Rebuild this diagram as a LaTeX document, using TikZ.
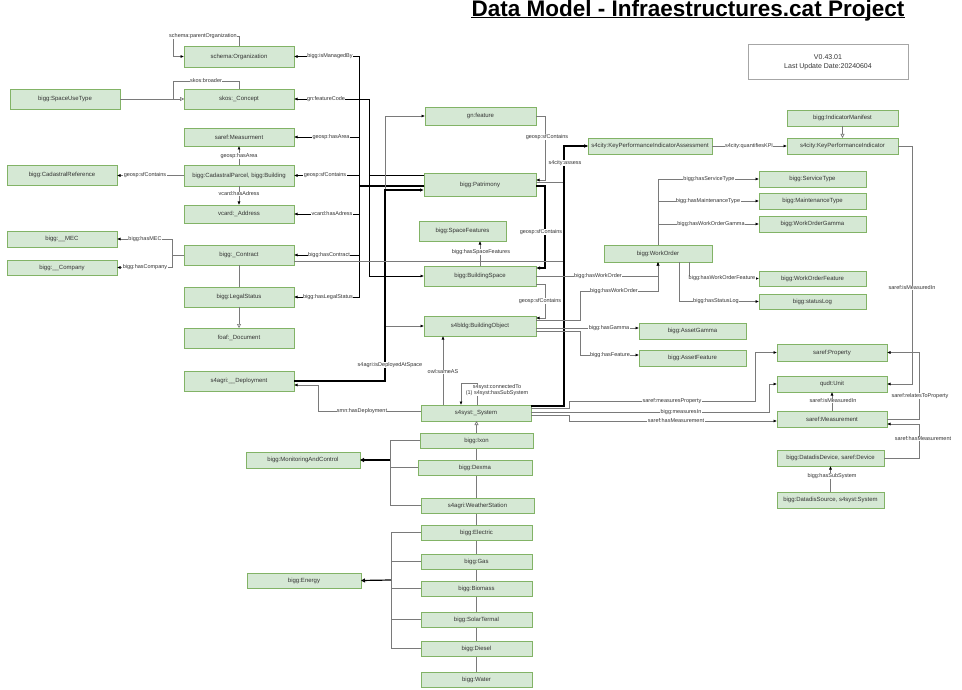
\documentclass[tikz,border=0pt]{standalone}
\usepackage{fontspec}
\setmainfont{Liberation Sans}
\usetikzlibrary{arrows.meta,backgrounds}
\definecolor{boxfill}{HTML}{D5E8D4}
\definecolor{boxline}{HTML}{82B366}
\definecolor{edge}{HTML}{7A7A7A}
\definecolor{txt}{HTML}{333333}
\tikzset{
 box/.style={draw=boxline, fill=boxfill, line width=0.8pt, inner sep=0pt, outer sep=0pt, font=\fontsize{6}{7}\selectfont, text=txt},
 lbl/.style={font=\fontsize{5.5}{6}\selectfont, text=txt, fill=white, inner sep=0.4pt},
 ln/.style={draw=edge, line width=0.6pt},
 arr/.style={ln, -{Latex[length=3.5pt,width=3pt,color=black]}},
 darr/.style={draw=black, line width=0.6pt, -{Latex[length=3.5pt,width=3pt]}},
 thk/.style={draw=black, line width=1.2pt},
 thkarr/.style={thk, -{Latex[length=4pt,width=3.5pt]}},
 inh/.style={ln, -{Triangle[open,length=4pt,width=4pt,fill=white]}},
}
\newcommand\mybox[6]{\node[box, minimum width={(#4-#2)*1pt}, minimum height={(#5-#3)*1pt}] (#1) at ({(#2+#4)/2},{(#3+#5)/2}) {#6};}
\newcommand\mylbl[4]{\node[lbl] (#1) at (#2,#3) {#4};}
\begin{document}
\begin{tikzpicture}[x=1pt,y=-1pt]
\useasboundingbox (0,0) rectangle (962,690);
% title
\node[font=\bfseries\fontsize{22.5}{26}\selectfont, anchor=base, inner sep=0pt] (title) at (688,16.3) {Data Model - Infraestructures.cat Project};
\draw[line width=1pt] (title.base west |- 0,18) -- (title.base east |- 0,18);
\node[draw=gray!70, line width=1pt, minimum width=160pt, minimum height=35pt, inner sep=0pt, align=center, font=\fontsize{7}{9}\selectfont, text=txt] (ver) at (828,62) {V0.43.01\\Last Update Date:20240604};
% left column
\mybox{org}{184}{46}{294}{67}{schema:Organization}
\mybox{concept}{184}{89}{294}{109}{skos:\_Concept}
\mybox{measur}{184}{128}{294}{146}{saref:Measurment}
\mybox{cadparcel}{184}{165}{294}{186}{bigg:CadastralParcel, bigg:Building}
\mybox{address}{184}{205}{294}{223}{vcard:\_Address}
\mybox{contract}{184}{245}{294}{265}{bigg:\_Contract}
\mybox{legal}{184}{287}{294}{307}{bigg:LegalStatus}
\mybox{doc}{184}{328}{294}{348}{foaf:\_Document}
\mybox{deploy}{184}{371}{294}{391}{s4agri:\_\_Deployment}
\mybox{spaceuse}{10}{89}{120}{109}{bigg:SpaceUseType}
\mybox{cadref}{7}{165}{117}{185}{bigg:CadastralReference}
\mybox{mec}{7}{231}{117}{247}{bigg:\_\_MEC}
\mybox{company}{7}{260}{117}{275}{bigg:\_\_Company}
% middle
\mybox{gnfeat}{425}{107}{536}{125}{gn:feature}
\mybox{patr}{424}{173}{536}{196}{bigg:Patrimony}
\mybox{spfeat}{419}{221}{506}{241}{bigg:SpaceFeatures}
\mybox{bspace}{424}{266}{536}{286}{bigg:BuildingSpace}
\mybox{bobj}{424}{316}{536}{336}{s4bldg:BuildingObject}
\mybox{system}{421}{405}{531}{421}{s4syst:\_System}
\mybox{ixon}{420}{433}{533}{448}{bigg:Ixon}
\mybox{dexma}{418}{460}{532}{475}{bigg:Dexma}
\mybox{weather}{421}{498}{534}{513}{s4agri:WeatherStation}
\mybox{electric}{421}{525}{532}{540}{bigg:Electric}
\mybox{gas}{421}{554}{532}{569}{bigg:Gas}
\mybox{biomass}{421}{581}{532}{596}{bigg:Biomass}
\mybox{solar}{421}{612}{532}{627}{bigg:SolarTermal}
\mybox{diesel}{421}{641}{532}{656}{bigg:Diesel}
\mybox{water}{421}{672}{532}{687}{bigg:Water}
\mybox{monitor}{246}{452}{360}{468}{bigg:MonitoringAndControl}
\mybox{energy}{247}{573}{361}{588}{bigg:Energy}
% right
\mybox{kpia}{588}{138}{712}{154}{s4city:KeyPerformanceIndicatorAssessment}
\mybox{indman}{787}{110}{898}{126}{bigg:IndicatorManifest}
\mybox{kpi}{787}{138}{898}{154}{s4city:KeyPerformanceIndicator}
\mybox{servtype}{759}{171}{866}{187}{bigg:ServiceType}
\mybox{mainttype}{759}{193}{866}{209}{bigg:MaintenanceType}
\mybox{wogamma}{759}{216}{866}{232}{bigg:WorkOrderGamma}
\mybox{workorder}{604}{245}{712}{262}{bigg:WorkOrder}
\mybox{wofeat}{759}{271}{866}{286}{bigg:WorkOrderFeature}
\mybox{statuslog}{759}{294}{866}{309}{bigg:statusLog}
\mybox{assetgamma}{639}{323}{746}{339}{bigg:AssetGamma}
\mybox{assetfeat}{639}{350}{746}{366}{bigg:AssetFeature}
\mybox{property}{777}{344}{887}{361}{saref:Property}
\mybox{unit}{777}{376}{887}{392}{qudt:Unit}
\mybox{measurement}{777}{411}{887}{427}{saref:Measurement}
\mybox{ddevice}{777}{450}{884}{466}{bigg:DatadisDevice, saref:Device}
\mybox{dsource}{777}{492}{884}{508}{bigg:DatadisSource, s4syst:System}

% ---- connectors ----
% self loops and left
\draw[arr] (org.north) -- (239,36) -- (173,36) |- (org.west);
\draw[arr] (concept.north) -- (239,81) -- (173,81) |- (concept.west);
\draw[inh] (spaceuse.east) -- (concept.west);
% patrimony trunk
\draw[darr] (patr.west |- 0,186) -- (359,186) |- (org.east);
\draw[darr] (patr.west |- 0,186) -- (359,186) |- (measur.east);
\draw[darr] (patr.west |- 0,186) -- (359,186) |- (cadparcel.east);
\draw[darr] (patr.west |- 0,186) -- (359,186) |- (address.east);
\draw[darr] (patr.west |- 0,186) -- (359,186) |- (contract.east);
\draw[darr] (patr.west |- 0,186) -- (359,186) |- (legal.east);
\draw[thk] (patr.west |- 0,186) -- (359,186);
% featureCode
\draw[darr] (patr.west |- 0,175) -- (369,175) |- (concept.east);
\draw[darr] (patr.west |- 0,175) -- (369,175) |- (bspace.west |- 0,276);
% deployed at space
\draw[arr] (deploy.east |- 0,381) -- (385,381) |- (gnfeat.west |- 0,116);
\draw[arr] (deploy.east |- 0,381) -- (385,381) |- (bobj.west);
\draw[thkarr] (deploy.east |- 0,381) -- (385,381) |- (patr.west |- 0,190);
% hasDeployment
\draw[arr] (system.west |- 0,411) -- (318,411) |- (deploy.east |- 0,385);
% containment chain
\draw[arr] (gnfeat.east |- 0,116) -- (545,116) |- (patr.east |- 0,180);
\draw[thkarr] (patr.east |- 0,186) -- (545,186) |- (bspace.east |- 0,268);
\draw[arr] (bspace.east |- 0,284) -- (545,284) |- (bobj.east |- 0,318);
% assess
\draw[arr] (patr.east |- 0,182) -- (564,182) |- (kpia.west);
\draw[arr] (contract.east |- 0,261) -- (564,261) |- (kpia.west);
\draw[thkarr] (system.east |- 0,406) -- (564,406) |- (kpia.west);
% space features
\draw[arr] (bspace.north -| 480,0) -- (spfeat.south -| 480,0);
% work orders
\draw[arr] (bspace.east |- 0,276) -| (workorder.south);
\draw[arr] (bobj.east |- 0,320) -- (580,320) -- (580,291) -- (658,291) -- (workorder.south);
\draw[arr] (bobj.east |- 0,328) -- (assetgamma.west |- 0,328);
\draw[arr] (bobj.east |- 0,331) -- (580,331) |- (assetfeat.west |- 0,355);
% system to saref
\draw[arr] (system.east |- 0,408) -- (569,408) -- (569,401) -- (755,401) |- (property.west);
\draw[arr] (system.east |- 0,412) -- (769,412) |- (unit.west);
\draw[arr] (system.east |- 0,415) -- (569,415) |- (measurement.west |- 0,421);
% KPI
\draw[arr] (kpia.east) -- (kpi.west);
\draw[inh] (indman) -- (kpi);
\draw[arr] (kpi.east) -- (912,146) |- (unit.east);
\draw[arr] (measurement) -- (unit);
\draw[arr] (measurement.east |- 0,419) -- (919,419) |- (property.east);
\draw[arr] (ddevice.east |- 0,458) -- (919,458) |- (measurement.east |- 0,424);
\draw[arr] (dsource) -- (ddevice);
% work order outgoing
\draw[arr] (workorder.north) |- (servtype.west);
\draw[arr] (workorder.north) |- (mainttype.west);
\draw[arr] (workorder.north) |- (wogamma.west);
\draw[arr] (workorder.south -| 689,0) |- (wofeat.west);
\draw[arr] (workorder.south -| 679,0) |- (statuslog.west);
% left small
\draw[arr] (cadparcel) -- (measur);
\draw[arr] (cadparcel.west) -- (cadref.east |- cadparcel.west);
\draw[arr] (cadparcel) -- (address);
\draw[arr] (contract.west) -- (172,255) |- (mec.east);
\draw[arr] (contract.west) -- (172,255) |- (company.east);
\draw[ln] (contract) -- (legal);
\draw[inh] (legal) -- (doc);
% system
\draw[arr] (system.north -| 443,0) -- (bobj.south -| 443,0);
\draw[arr] (system.north -| 477,0) -- (477,383) -- (461,383) -- (system.north -| 461,0);
\begin{scope}[on background layer]
\draw[ln] (water.north) -- (water.north |- system.south);
\end{scope}
\draw[inh] (ixon.north -| water.north) -- (system.south -| water.north);
% monitoring
\coordinate (mcj) at (390,460);
\draw[ln] (ixon.west) -| (mcj);
\draw[ln] (dexma.west) -| (mcj);
\draw[ln] (weather.west) -| (mcj);
\draw[thk,-{Triangle[length=4pt,width=4pt]}] (mcj) -- (monitor.east);
% energy
\coordinate (enj) at (391,580);
\draw[ln] (electric.west) -| (enj);
\draw[ln] (gas.west) -| (enj);
\draw[ln] (biomass.west) -| (enj);
\draw[ln] (solar.west) -| (enj);
\draw[ln] (diesel.west) -| (enj);
\draw[thk,-{Triangle[open,length=4pt,width=4pt,fill=white]}] (enj) -- (energy.east);

% ---- labels ----
\mylbl{l1}{203}{36}{schema:parentOrganization}
\mylbl{l2}{206}{81}{skos:broader}
\mylbl{l3}{330}{56.5}{bigg:isManagedBy}
\mylbl{l4}{326}{99}{gn:featureCode}
\mylbl{l5}{331}{137}{geosp:hasArea}
\mylbl{l6}{325}{175.5}{geosp:sfContains}
\mylbl{l7}{332}{214}{vcard:hasAdress}
\mylbl{l8}{329}{255}{bigg:hasContract}
\mylbl{l9}{328}{297}{bigg:hasLegalStatus}
\mylbl{l10}{239}{156}{geosp:hasArea}
\mylbl{l11}{145}{175.5}{geosp:sfContains}
\mylbl{l12}{239}{194}{vcard:hasAdress}
\mylbl{l13}{145}{239}{bigg:hasMEC}
\mylbl{l14}{145}{267.5}{bigg:hasCompany}
\mylbl{l15}{390}{365}{s4agri:isDeployedAtSpace}
\mylbl{l16}{362}{411}{smn:hasDeployment}
\mylbl{l17}{547}{137}{geosp:sfContains}
\mylbl{l18}{565}{163}{s4city:assess}
\mylbl{l19}{541}{232}{geosp:sfContains}
\mylbl{l20}{540}{301}{geosp:sfContains}
\mylbl{l21}{481}{252}{bigg:hasSpaceFeatures}
\mylbl{l22}{598}{276}{bigg:hasWorkOrder}
\mylbl{l23}{614}{291}{bigg:hasWorkOrder}
\mylbl{l24}{609}{328}{bigg:hasGamma}
\mylbl{l25}{610}{355}{bigg:hasFeature}
\mylbl{l26}{443}{372}{owl:sameAS}
\node[lbl, align=center] (l27) at (497,390) {s4syst:connectedTo\\(1) s4syst:hasSubSystem};
\mylbl{l28}{672}{401}{saref:measuresProperty}
\mylbl{l29}{681}{412}{bigg:measuresIn}
\mylbl{l30}{676}{421}{saref:hasMeasurement}
\mylbl{l31}{749}{146}{s4city:quantifiesKPI}
\mylbl{l32}{912}{288}{saref:isMeasuredIn}
\mylbl{l33}{833}{401}{saref:isMeasuredIn}
\mylbl{l34}{920}{396}{saref:relatesToProperty}
\mylbl{l35}{923}{439}{saref:hasMeasurement}
\mylbl{l36}{832}{476}{bigg:hasSubSystem}
\mylbl{l37}{709}{179}{bigg:hasServiceType}
\mylbl{l38}{708}{201}{bigg:hasMaintenanceType}
\mylbl{l39}{711}{224}{bigg:hasWorkOrderGamma}
\mylbl{l40}{722}{278.5}{bigg:hasWorkOrderFeature}
\mylbl{l41}{716}{301.5}{bigg:hasStatusLog}
\end{tikzpicture}
\end{document}
